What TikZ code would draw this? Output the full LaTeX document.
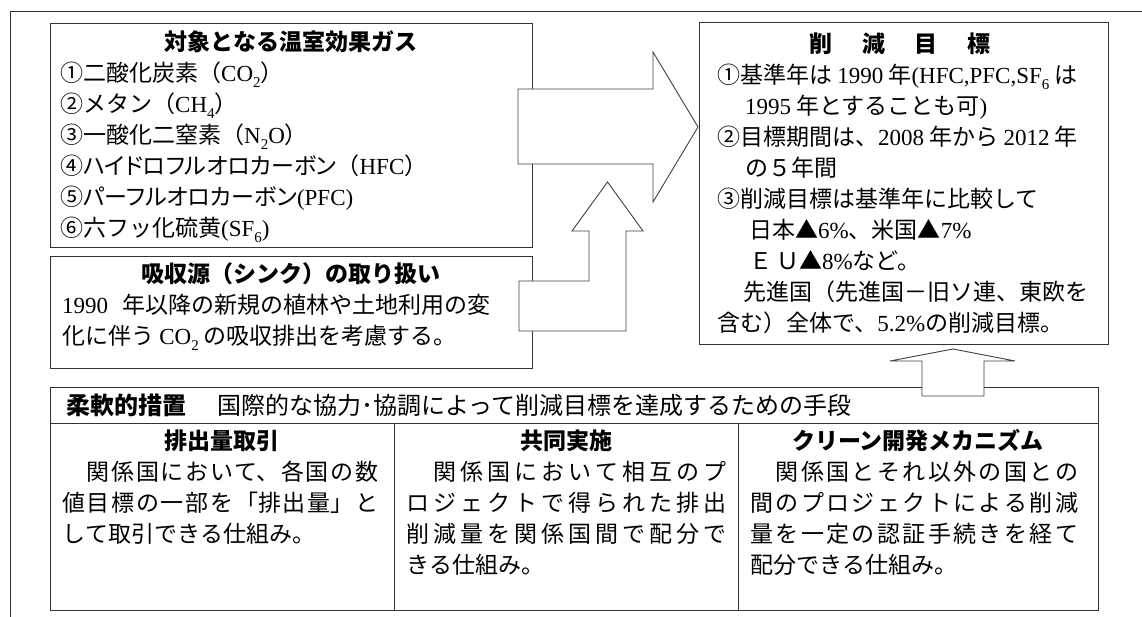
\documentclass[tikz,border=0pt]{standalone}
\usepackage{fontspec}
\setmainfont{Noto Sans CJK JP}
\newfontfamily\lat{Liberation Serif}
\newfontfamily\cjkp[RawFeature=+palt]{Noto Sans CJK JP}
\newcommand\LT[1]{{\lat #1}}
\newcommand\Sb[1]{\raisebox{-0.25em}{\fontsize{15}{15}\selectfont\lat #1}}
\XeTeXlinebreaklocale "ja"
\XeTeXlinebreakskip=0pt plus 8pt
\begin{document}
\begin{tikzpicture}[x=1pt,y=-1pt,
  frame/.style={line width=1pt, draw=black!80},
  box/.style={line width=0.9pt, draw=black!80},
  blockarrow/.style={line width=0.9pt, draw=black!75, fill=white, line join=miter},
  ttl/.style={font=\fontsize{23}{31}\selectfont\bfseries, inner sep=0},
  body/.style={anchor=north west, inner sep=0, align=left, font=\fontsize{23}{31}\selectfont},
  col/.style={anchor=north west, inner sep=0, align=justify, font=\fontsize{23}{31}\selectfont}
]
\useasboundingbox (0,0) rectangle (1142,617);
% outer frame
\draw[frame] (10,617) -- (10,12) -- (1142,12);
% boxes
\draw[box] (50,23) rectangle (532,247);
\draw[box] (50,256) rectangle (532,368);
\draw[box] (699,22) rectangle (1108,344);
% table
\draw[box] (50,387) rectangle (1098,610);
\draw[box] (50,423) -- (1098,423);
\draw[box] (394,423) -- (394,610);
\draw[box] (738,423) -- (738,610);
% block arrows
\draw[blockarrow] (518,89) -- (653,89) -- (653,52) -- (698,127) -- (653,202) -- (653,164) -- (518,164) -- cycle;
\draw[blockarrow] (519,281) -- (589,281) -- (589,231) -- (572,231) -- (607.5,182) -- (643,231) -- (626,231) -- (626,331) -- (519,331) -- cycle;
\draw[blockarrow] (922,396) -- (922,361) -- (890,361) -- (953,349) -- (1015,361) -- (984,361) -- (984,396) -- cycle;
% gas box
\node[ttl] (gastitle) at (291,42) {対象となる温室効果ガス};
\node[body] (gaslist) at (60,60) {\strut①二酸化炭素（\LT{CO}\Sb{2}）\\
②メタン（\LT{CH}\Sb{4}）\\
③一酸化二窒素（\LT{N}\Sb{2}\LT{O}）\\
{\cjkp ④ハイドロフルオロカーボン}（\LT{HFC}）\\
{\cjkp ⑤パーフルオロカーボン}\LT{(PFC)}\\
⑥六フッ化硫黄\LT{(SF}\Sb{6}\LT{)}};
% sink box
\node[ttl] (sinktitle) at (291,274) {吸収源（シンク）の取り扱い};
\node[body] (sinktext) at (62,292) {\strut\LT{1990}\hspace{14pt}年以降の新規の植林や土地利用の変\\
化に伴う \LT{CO}\Sb{2} の吸収排出を考慮する。};
% goal box
\node[ttl] (goaltitle) at (900,44) {削\hspace{1.3em}減\hspace{1.3em}目\hspace{1.3em}標};
\node[body] (goaltext) at (717,62) {\strut①基準年は \LT{1990} 年\LT{(HFC,PFC,SF}\Sb{6} は\\
\hspace*{28pt}\LT{1995} 年とすることも可\LT{)}\\
②目標期間は、\LT{2008} 年から \LT{2012} 年\\
\hspace*{28pt}の５年間\\
③削減目標は基準年に比較して\\
\hspace*{32pt}日本▲\LT{6\%}、米国▲\LT{7\%}\\
\hspace*{32pt}Ｅ\,Ｕ▲\LT{8\%}など。\\
\hspace*{26pt}先進国（先進国－旧ソ連、東欧を\\
含む）全体で、\LT{5.2\%}の削減目標。};
% table texts
\node[anchor=west, inner sep=0, font=\fontsize{24}{31}\selectfont] (hdr) at (66,405) {{\bfseries 柔軟的措置}\hspace{1.3em}国際的な協力･協調によって削減目標を達成するための手段};
\node[ttl] (c1title) at (222,441) {排出量取引};
\node[ttl] (c2title) at (566,441) {共同実施};
\node[ttl] (c3title) at (918,441) {クリーン開発メカニズム};
\node[col, text width=316pt] (c1) at (62,459) {\strut　関係国において、各国の数\linebreak 値目標の一部を「排出量」と\linebreak して取引できる仕組み。};
\node[col, text width=320pt] (c2) at (406,459) {\strut　関係国において相互のプ\linebreak ロジェクトで得られた排出\linebreak 削減量を関係国間で配分で\linebreak きる仕組み。};
\node[col, text width=328pt] (c3) at (750,459) {\strut　関係国とそれ以外の国との\linebreak 間のプロジェクトによる削減\linebreak 量を一定の認証手続きを経て\linebreak 配分できる仕組み。};
\end{tikzpicture}
\end{document}
